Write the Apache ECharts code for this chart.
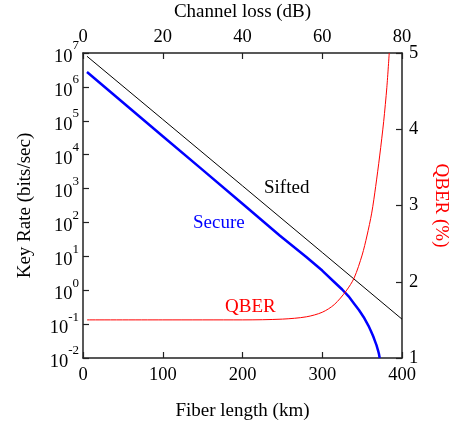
<!DOCTYPE html>
<html>
<head>
<meta charset="utf-8">
<script src="https://cdn.jsdelivr.net/npm/echarts@6/dist/echarts.min.js"></script>
<style>
  html, body { margin: 0; padding: 0; background: #fff; }
  #chart { width: 455px; height: 427px; }
</style>
</head>
<body>
<div id="chart"></div>
<script>
// fiber length (km) -> key rate (bits/sec)
const siftedKm = [5, 100, 200, 300, 400];
const siftedRate = [8e6, 1.1e5, 1.2e3, 13, 0.14];

const secureKm = [5, 100, 147, 200, 247, 280, 300, 315, 325, 333, 340, 346, 352, 358, 361, 364, 366, 368, 370, 371, 372];
const secureRate = [2.75e6, 3.5e4, 4070, 355, 40.7, 9.6, 3.8, 1.75, 1.05, 0.66, 0.40, 0.26, 0.16, 0.089, 0.063, 0.043, 0.032, 0.024, 0.0166, 0.0135, 0.01];

const qberKm = [5, 100, 200, 250, 280, 300, 315, 330, 340, 350, 356, 362, 367, 372, 377, 381, 384];
const qberPct = [1.5, 1.5, 1.5, 1.51, 1.54, 1.6, 1.7, 1.88, 2.05, 2.35, 2.6, 2.9, 3.25, 3.65, 4.1, 4.55, 5.0];

const lossTicks = [0, 20, 40, 60, 80];

const font = 'Liberation Serif';
const zip = (xs, ys) => xs.map((x, i) => [x, ys[i]]);

const chart = echarts.init(document.getElementById('chart'));

const frame = { show: true, onZero: false, lineStyle: { color: '#222', width: 1.5 } };
const tick = { show: true, inside: true, length: 6, lineStyle: { color: '#222', width: 1.2 } };

const option = {
  animation: false,
  grid: { left: 83, top: 53, right: 53, bottom: 69, containLabel: false, outerBoundsMode: 'none' },
  textStyle: { fontFamily: font },
  xAxis: [
    {
      type: 'value', position: 'bottom', min: 0, max: 400, interval: 100,
      name: 'Fiber length (km)', nameLocation: 'middle', nameGap: 44,
      nameTextStyle: { fontFamily: font, fontSize: 19, color: '#000' },
      axisLine: frame, axisTick: tick, splitLine: { show: false },
      axisLabel: { fontFamily: font, fontSize: 18.5, color: '#000', margin: 8 }
    },
    {
      type: 'value', position: 'top', min: 0, max: 80, interval: 20,
      name: 'Channel loss (dB)', nameLocation: 'middle', nameGap: 31,
      nameTextStyle: { fontFamily: font, fontSize: 19, color: '#000' },
      axisLine: frame, axisTick: tick, splitLine: { show: false },
      axisLabel: { fontFamily: font, fontSize: 18.5, color: '#000', margin: 6,
        formatter: v => lossTicks.includes(v) ? String(v) : '' }
    }
  ],
  yAxis: [
    {
      type: 'log', logBase: 10, min: 0.01, max: 1e7, position: 'left',
      name: 'Key Rate (bits/sec)', nameLocation: 'middle', nameGap: 48,
      nameTextStyle: { fontFamily: font, fontSize: 19, color: '#000' },
      axisLine: frame, axisTick: tick, splitLine: { show: false },
      minorTick: { show: false },
      axisLabel: {
        margin: 4, color: '#000',
        formatter: v => '{b|10}{s|' + Math.round(Math.log10(v)) + '}',
        rich: {
          b: { fontFamily: font, fontSize: 18.5, color: '#000', padding: [8, 0, 0, 0] },
          s: { fontFamily: font, fontSize: 13, color: '#000', verticalAlign: 'top', padding: [0, 0, 6, 0] }
        }
      }
    },
    {
      type: 'value', min: 1, max: 5, interval: 1, position: 'right',
      name: 'QBER (%)', nameLocation: 'middle', nameGap: 29, nameRotate: -90,
      nameTextStyle: { fontFamily: font, fontSize: 19, color: '#ff0000' },
      axisLine: frame, axisTick: tick, splitLine: { show: false },
      axisLabel: { fontFamily: font, fontSize: 18.5, color: '#000', margin: 7 }
    }
  ],
  series: [
    {
      name: 'Sifted', type: 'line', xAxisIndex: 0, yAxisIndex: 0,
      data: zip(siftedKm, siftedRate), showSymbol: false,
      lineStyle: { color: '#000', width: 1 }
    },
    {
      name: 'Secure', type: 'line', xAxisIndex: 0, yAxisIndex: 0,
      data: zip(secureKm, secureRate), showSymbol: false,
      lineStyle: { color: '#0000ff', width: 2.5, join: 'round' }
    },
    {
      name: 'QBER', type: 'line', xAxisIndex: 0, yAxisIndex: 1,
      data: zip(qberKm, qberPct), showSymbol: false, smooth: 0.3,
      lineStyle: { color: '#ff0000', width: 1 }
    }
  ],
  graphic: [
    { type: 'text', left: 264, top: 179, style: { text: 'Sifted', fill: '#000', font: '19px "Liberation Serif"' } },
    { type: 'text', left: 193, top: 214, style: { text: 'Secure', fill: '#0000ff', font: '19px "Liberation Serif"' } },
    { type: 'text', left: 225, top: 298, style: { text: 'QBER', fill: '#ff0000', font: '19px "Liberation Serif"' } }
  ]
};

chart.setOption(option);
window.addEventListener('resize', () => chart.resize());
</script>
</body>
</html>
